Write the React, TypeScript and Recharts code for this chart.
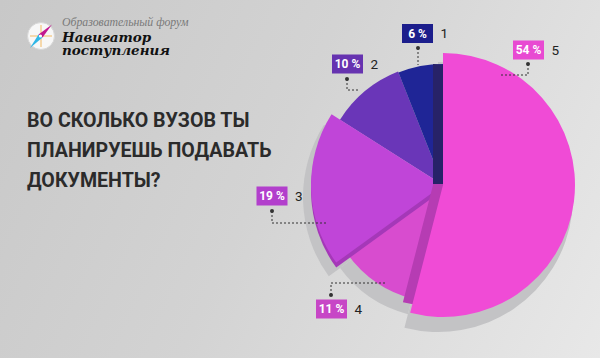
import React from 'react';
import { PieChart, Pie, Cell } from 'recharts';

// slices listed clockwise from 12 o'clock
const sliceNames = ['5', '4', '3', '2', '1'];
const sliceValues = [54, 11, 19, 10, 6];
const sliceData = sliceNames.map((name, i) => ({ name, value: sliceValues[i] }));

const titleLines = ['ВО СКОЛЬКО ВУЗОВ ТЫ', 'ПЛАНИРУЕШЬ ПОДАВАТЬ', 'ДОКУМЕНТЫ?'];

const CX = 443;
const CY = 185;
const radii = [132, 118, 132, 122, 121];
const faceColors = ['#f04bd6', '#d84ccf', '#c045d8', '#6a36b8', '#1f2596'];
const boxColors = ['#e84ad2', '#c746c6', '#b23fcc', '#6633b0', '#1c1e8c'];

// label box centre + leader (dot first), offsets from pie centre
const labelPos = [
  { box: [85.5, -135], line: [[85, -121], [85, -110], [57, -110]] },
  { box: [-111.5, 124], line: [[-112, 110], [-112, 98], [-57, 98]] },
  { box: [-171, 11], line: [[-171, 26], [-171, 38], [-115, 38]] },
  { box: [-95.5, -121], line: [[-96, -106], [-96, -95], [-83, -95]] },
  { box: [-25.5, -151.5], line: [[-25, -137], [-25, -120]] },
];

function layer(key: string, idx: number, r: number, fill: string, dx = 0, dy = 0) {
  return (
    <Pie
      key={key}
      data={sliceData}
      dataKey="value"
      cx={CX + dx}
      cy={CY + dy}
      outerRadius={r}
      startAngle={90}
      endAngle={-270}
      isAnimationActive={false}
      stroke="none"
    >
      {sliceData.map((_, i) => (
        <Cell key={i} fill={i === idx ? fill : 'none'} stroke="none" />
      ))}
    </Pie>
  );
}

const renderLabel = (props: any) => {
  const idx = props.index;
  const p = labelPos[idx];
  if (!p) return null;
  const bx = CX + p.box[0];
  const by = CY + p.box[1];
  const pts = p.line.map(([dx, dy]) => `${CX + dx},${CY + dy}`).join(' ');
  return (
    <g key={'lbl' + idx}>
      <polyline points={pts} fill="none" stroke="#333" strokeWidth={1} strokeDasharray="2 2" />
      <circle cx={CX + p.line[0][0]} cy={CY + p.line[0][1]} r={2} fill="#333" />
      <rect x={bx - 15.5} y={by - 9.5} width={31} height={19} fill={boxColors[idx]} />
      <text x={bx} y={by + 4.3} textAnchor="middle" fill="#fff" fontSize={12} fontWeight={700} fontFamily="Roboto">
        {sliceValues[idx]} %
      </text>
      <text x={bx + 23} y={by + 4.6} fill="#222" fontSize={13.5} fontFamily="Roboto">
        {sliceNames[idx]}
      </text>
    </g>
  );
};

function Compass() {
  return (
    <svg width={30} height={30} style={{ position: 'absolute', left: 26, top: 21 }}>
      <circle cx={15} cy={15} r={13.5} fill="#f7f7f7" stroke="#d6d6d6" />
      <line x1={15} y1={4} x2={15} y2={26} stroke="#f2a93b" strokeWidth={0.8} />
      <line x1={4} y1={15} x2={26} y2={15} stroke="#f2a93b" strokeWidth={0.8} />
      <polygon points="12.5,13.5 26,3.5 16.5,16.5" fill="#c2188f" />
      <polygon points="12.5,13.5 4,27 16.5,16.5" fill="#2fb6e6" />
      <circle cx={14.5} cy={15} r={1.6} fill="#fff" />
    </svg>
  );
}

export default function App() {
  return (
    <div
      style={{
        position: 'absolute',
        left: 0,
        top: 0,
        width: 600,
        height: 358,
        overflow: 'hidden',
        background: 'linear-gradient(115deg, #c8c8c8 0%, #d3d3d3 45%, #e8e8e8 100%)',
        fontFamily: 'Roboto, sans-serif',
      }}
    >
      <Compass />
      <div style={{ position: 'absolute', left: 62, top: 16, fontFamily: '"Liberation Serif", serif', fontStyle: 'italic', fontSize: 11.8, lineHeight: '12px', color: '#7a7a7a', whiteSpace: 'nowrap' }}>
        Образовательный форум
      </div>
      <div style={{ position: 'absolute', left: 62, top: 31, fontFamily: '"DejaVu Serif", serif', fontStyle: 'italic', fontWeight: 700, fontSize: 13.5, lineHeight: '12.5px', color: '#111', whiteSpace: 'nowrap' }}>
        Навигатор
        <br />
        поступления
      </div>
      {titleLines.map((t, i) => (
        <div
          key={i}
          style={{ position: 'absolute', left: 27, top: 106 + i * 30, fontSize: 19.6, lineHeight: '30px', fontWeight: 700, color: '#2b2b2b', whiteSpace: 'nowrap' }}
        >
          {t}
        </div>
      ))}
      <div style={{ position: 'absolute', left: 0, top: 0 }}>
        <PieChart width={600} height={358} margin={{ top: 0, right: 0, bottom: 0, left: 0 }}>
          <defs>
            <linearGradient id="depth5" gradientUnits="userSpaceOnUse" x1="0" y1="0" x2="0" y2="358">
              <stop offset="0.515" stopColor="#272268" />
              <stop offset="0.515" stopColor="#b63cb3" />
            </linearGradient>
          </defs>
          {radii.map((r, i) => layer('sh' + i, i, r + 3, '#c3c3c5', -5, 12))}
          {layer('t3', 3, radii[3], faceColors[3])}
          {layer('t4', 4, radii[4], faceColors[4])}
          {layer('t1', 1, radii[1], faceColors[1])}
          {layer('d2', 2, radii[2], '#a538b8', 0, 5)}
          {layer('t2', 2, radii[2], faceColors[2])}
          {layer('d0', 0, 121, 'url(#depth5)', -10, 0)}
          {layer('t0', 0, radii[0], faceColors[0])}
          <Pie
            data={sliceData}
            dataKey="value"
            cx={CX}
            cy={CY}
            outerRadius={radii[0]}
            startAngle={90}
            endAngle={-270}
            isAnimationActive={false}
            stroke="none"
            fill="none"
            label={renderLabel}
            labelLine={false}
          >
            {sliceData.map((_, i) => (
              <Cell key={i} fill="none" stroke="none" />
            ))}
          </Pie>
        </PieChart>
      </div>
    </div>
  );
}
